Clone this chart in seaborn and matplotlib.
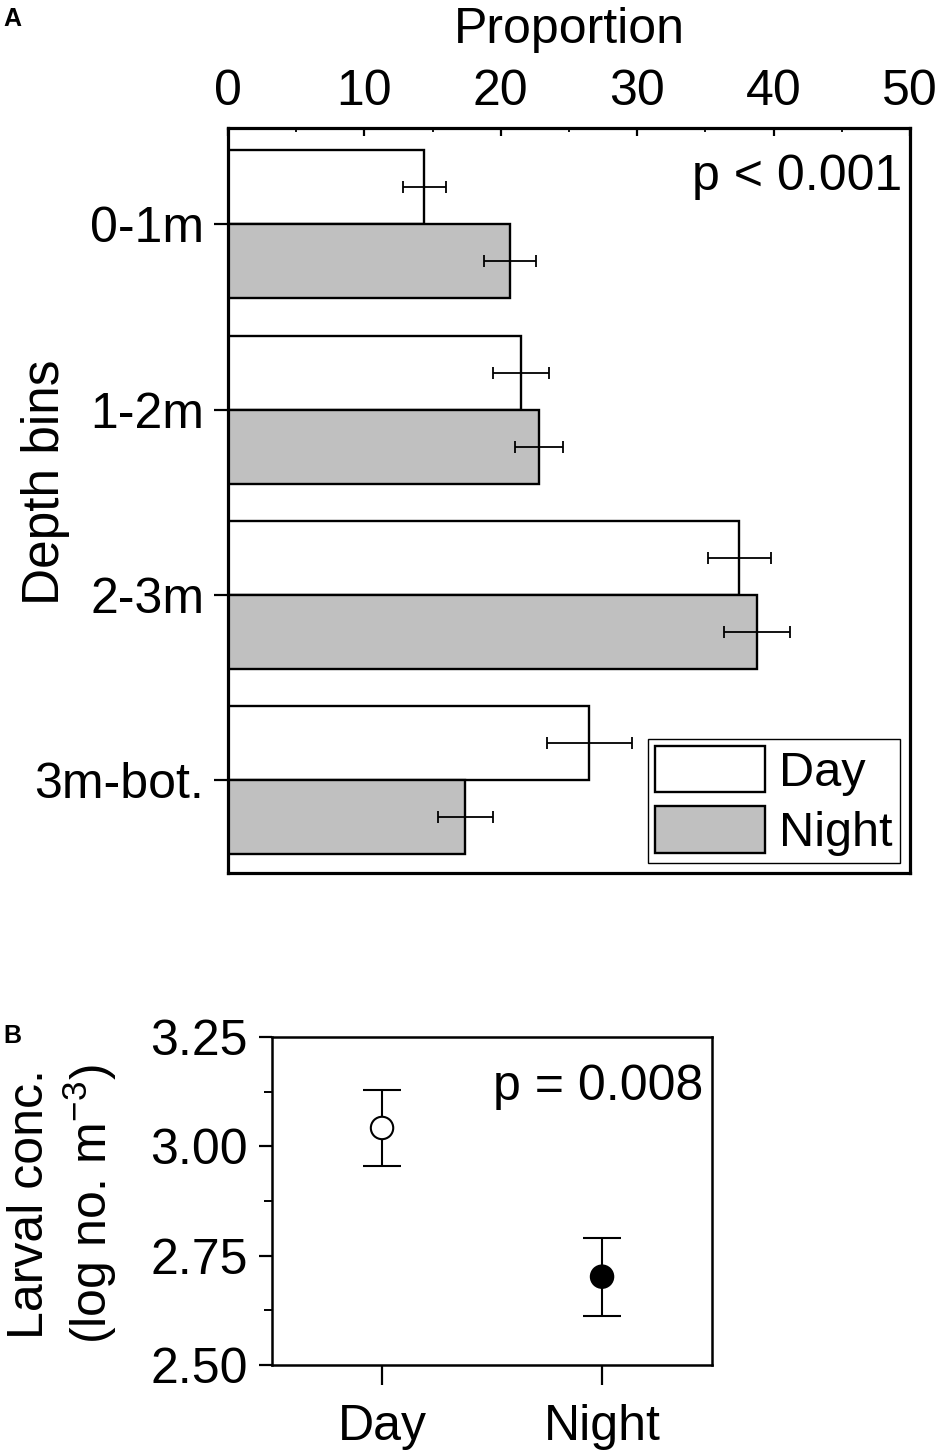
import numpy as np
import pandas as pd
import matplotlib
matplotlib.use('Agg')
import matplotlib.pyplot as plt
from matplotlib.ticker import MultipleLocator, FormatStrFormatter
import seaborn as sns

# panel A: proportion of larvae per depth bin
depth_bins = ['0-1m', '1-2m', '2-3m', '3m-bot.']
day_prop = [14.4, 21.5, 37.5, 26.5]
day_err = [1.6, 2.05, 2.3, 3.1]
night_prop = [20.7, 22.8, 38.8, 17.4]
night_err = [1.9, 1.75, 2.4, 2.0]

# panel B: larval concentration
periods = ['Day', 'Night']
conc = [3.042, 2.702]
conc_err = [0.087, 0.089]

sns.set_theme(style='white')
plt.rcParams['font.family'] = ['Liberation Sans', 'DejaVu Sans']
plt.rcParams['text.color'] = 'black'
plt.rcParams['axes.labelcolor'] = 'black'
plt.rcParams['xtick.color'] = 'black'
plt.rcParams['ytick.color'] = 'black'
FS = 36

df = pd.DataFrame({
    'Depth': depth_bins * 2,
    'Period': ['Day'] * 4 + ['Night'] * 4,
    'Proportion': day_prop + night_prop,
})

fig = plt.figure(figsize=(9.39, 14.54), dpi=100)
axA = fig.add_axes([0.2428, 0.3996, 0.7263, 0.5124])
axB = fig.add_axes([0.2897, 0.0612, 0.4686, 0.2256])

# ---- panel A
sns.barplot(data=df, y='Depth', x='Proportion', hue='Period', orient='h',
            palette={'Day': 'white', 'Night': '#c0c0c0'}, edgecolor='black',
            linewidth=1.7, width=0.8, errorbar=None, ax=axA)
for cont, err in zip(axA.containers, [day_err, night_err]):
    xs = [b.get_width() for b in cont]
    ys = [b.get_y() + b.get_height() / 2 for b in cont]
    axA.errorbar(xs, ys, xerr=err, fmt='none', ecolor='black', elinewidth=1.3,
                 capsize=4.3, capthick=1.3, zorder=5)

axA.set_xlim(0, 50)
axA.set_ylim(3.5, -0.52)
axA.xaxis.tick_top()
axA.xaxis.set_label_position('top')
axA.xaxis.set_major_locator(MultipleLocator(10))
axA.xaxis.set_minor_locator(MultipleLocator(5))
axA.tick_params(axis='x', which='major', direction='in', length=5.5, width=1.6,
                labelsize=FS, pad=9, top=True, bottom=False)
axA.tick_params(axis='x', which='minor', direction='in', length=3, width=1.3,
                top=True, bottom=False)
axA.tick_params(axis='y', which='major', direction='out', length=10, width=1.6,
                labelsize=FS, pad=7, left=True, right=False)
axA.set_xlabel('Proportion', fontsize=FS, labelpad=19)
axA.set_ylabel('Depth bins', fontsize=37)
axA.yaxis.set_label_coords(-0.232, 0.525)
for s in axA.spines.values():
    s.set_visible(True)
    s.set_linewidth(2.3)
    s.set_color('black')
axA.text(0.988, 0.934, 'p < 0.001', transform=axA.transAxes, ha='right',
         va='center', fontsize=FS)

h, l = axA.get_legend_handles_labels()
leg = axA.legend(h, l, loc='lower right', fontsize=35, frameon=True, fancybox=False,
                 edgecolor='black', framealpha=1, borderaxespad=0.2, borderpad=0.15,
                 handlelength=2.26, handleheight=1.09, labelspacing=0.22,
                 handletextpad=0.3)
leg.get_frame().set_linewidth(1.0)

# ---- panel B
axB.errorbar([0, 1], conc, yerr=conc_err, fmt='none', ecolor='black',
             elinewidth=1.5, capsize=14, capthick=1.5, zorder=2)
sns.scatterplot(x=periods, y=conc, hue=periods,
                palette={'Day': 'white', 'Night': 'black'}, edgecolor='black',
                linewidth=1.5, s=260, legend=False, zorder=3, ax=axB)
axB.set_xlim(-0.5, 1.5)
axB.set_ylim(2.5, 3.25)
axB.yaxis.set_major_locator(MultipleLocator(0.25))
axB.yaxis.set_minor_locator(MultipleLocator(0.125))
axB.yaxis.set_major_formatter(FormatStrFormatter('%.2f'))
axB.tick_params(axis='y', which='major', direction='out', length=9.4, width=1.6,
                labelsize=FS, pad=8, left=True)
axB.tick_params(axis='y', which='minor', direction='out', length=5.8, width=1.4,
                left=True)
axB.tick_params(axis='x', which='major', direction='out', length=14.4, width=1.6,
                labelsize=FS, pad=14, bottom=True)
axB.set_ylabel('Larval conc.\n(log no. m$\\mathregular{^{-3}}$)', fontsize=FS,
               linespacing=1.17)
axB.yaxis.set_label_coords(-0.348, 0.49)
for s in axB.spines.values():
    s.set_visible(True)
    s.set_linewidth(1.8)
    s.set_color('black')
axB.text(0.98, 0.848, 'p = 0.008', transform=axB.transAxes, ha='right',
         va='center', fontsize=FS)

fig.text(0.004, 0.987, 'A', fontsize=18, fontweight='bold', va='center')
fig.text(0.004, 0.2875, 'B', fontsize=18, fontweight='bold', va='center')

fig.savefig('out.png', dpi=100)
